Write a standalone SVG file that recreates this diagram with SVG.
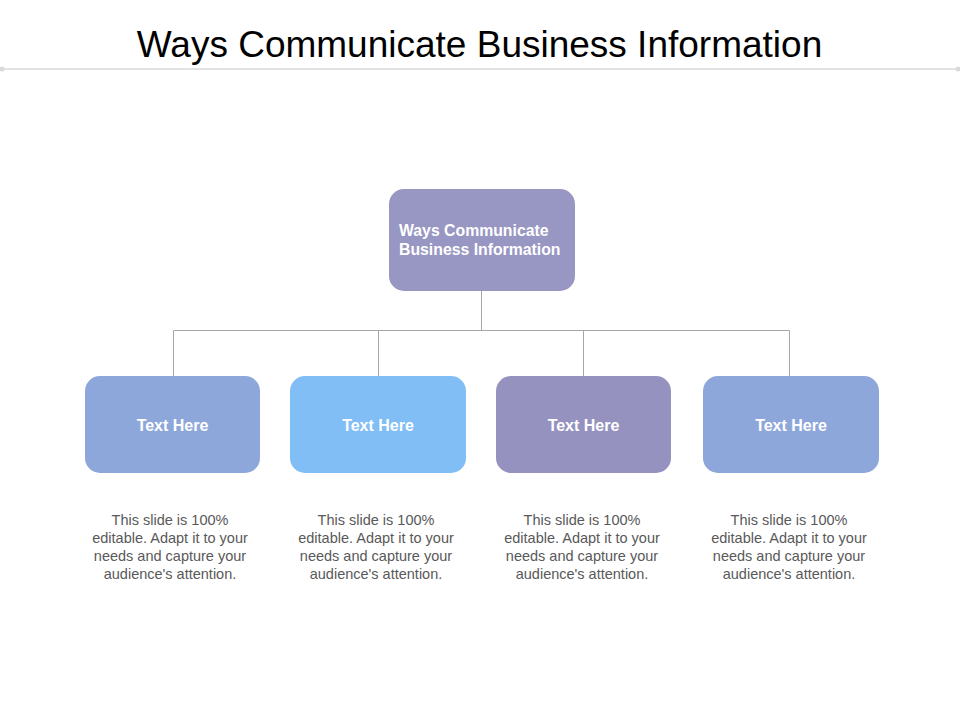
<svg xmlns="http://www.w3.org/2000/svg" width="960" height="720" viewBox="0 0 960 720">
<style>
.title{font-family:"Liberation Sans",Arial,sans-serif;font-size:37px;fill:#000}
.lbl{font-family:"Liberation Sans",Arial,sans-serif;font-weight:bold;fill:#fff}
.desc{font-family:"Liberation Sans",Arial,sans-serif;font-size:14.5px;fill:#595959;text-anchor:middle}
.conn{stroke:#a6a6a6;stroke-width:1;fill:none}
</style>
<rect width="960" height="720" fill="#fff"/>
<text class="title" x="479.5" y="57" text-anchor="middle">Ways Communicate Business Information</text>
<g id="rule">
<line x1="2" y1="69" x2="958" y2="69" stroke="#d9d9d9" stroke-width="1.5"/>
<circle cx="2" cy="69" r="2.5" fill="#d9d9d9"/>
<circle cx="958" cy="69" r="2.5" fill="#d9d9d9"/>
</g>
<g id="connectors">
<path class="conn" d="M481.5 291V330.5M173.5 376V330.5H789.5V376M378.5 330.5V376M583.5 330.5V376"/>
</g>
<g id="root">
<rect x="389" y="189" width="186" height="102" rx="15" fill="#9896c2"/>
<text class="lbl" x="399" y="236" font-size="15.8">Ways Communicate</text>
<text class="lbl" x="399" y="255" font-size="15.8">Business Information</text>
</g>
<g id="n1">
<rect x="85" y="376" width="175" height="97" rx="15" fill="#8ea7da"/>
<text class="lbl" x="172.5" y="431" font-size="16" text-anchor="middle">Text Here</text>
<text class="desc" x="170" y="525">This slide is 100%</text>
<text class="desc" x="170" y="543">editable. Adapt  it to your</text>
<text class="desc" x="170" y="561">needs and capture your</text>
<text class="desc" x="170" y="579">audience's attention.</text>
</g>
<g id="n2">
<rect x="290" y="376" width="176" height="97" rx="15" fill="#81bef5"/>
<text class="lbl" x="378" y="431" font-size="16" text-anchor="middle">Text Here</text>
<text class="desc" x="376" y="525">This slide is 100%</text>
<text class="desc" x="376" y="543">editable. Adapt  it to your</text>
<text class="desc" x="376" y="561">needs and capture your</text>
<text class="desc" x="376" y="579">audience's attention.</text>
</g>
<g id="n3">
<rect x="496" y="376" width="175" height="97" rx="15" fill="#9592bf"/>
<text class="lbl" x="583.5" y="431" font-size="16" text-anchor="middle">Text Here</text>
<text class="desc" x="582" y="525">This slide is 100%</text>
<text class="desc" x="582" y="543">editable. Adapt  it to your</text>
<text class="desc" x="582" y="561">needs and capture your</text>
<text class="desc" x="582" y="579">audience's attention.</text>
</g>
<g id="n4">
<rect x="703" y="376" width="176" height="97" rx="15" fill="#8ea7da"/>
<text class="lbl" x="791" y="431" font-size="16" text-anchor="middle">Text Here</text>
<text class="desc" x="789" y="525">This slide is 100%</text>
<text class="desc" x="789" y="543">editable. Adapt  it to your</text>
<text class="desc" x="789" y="561">needs and capture your</text>
<text class="desc" x="789" y="579">audience's attention.</text>
</g>
</svg>
